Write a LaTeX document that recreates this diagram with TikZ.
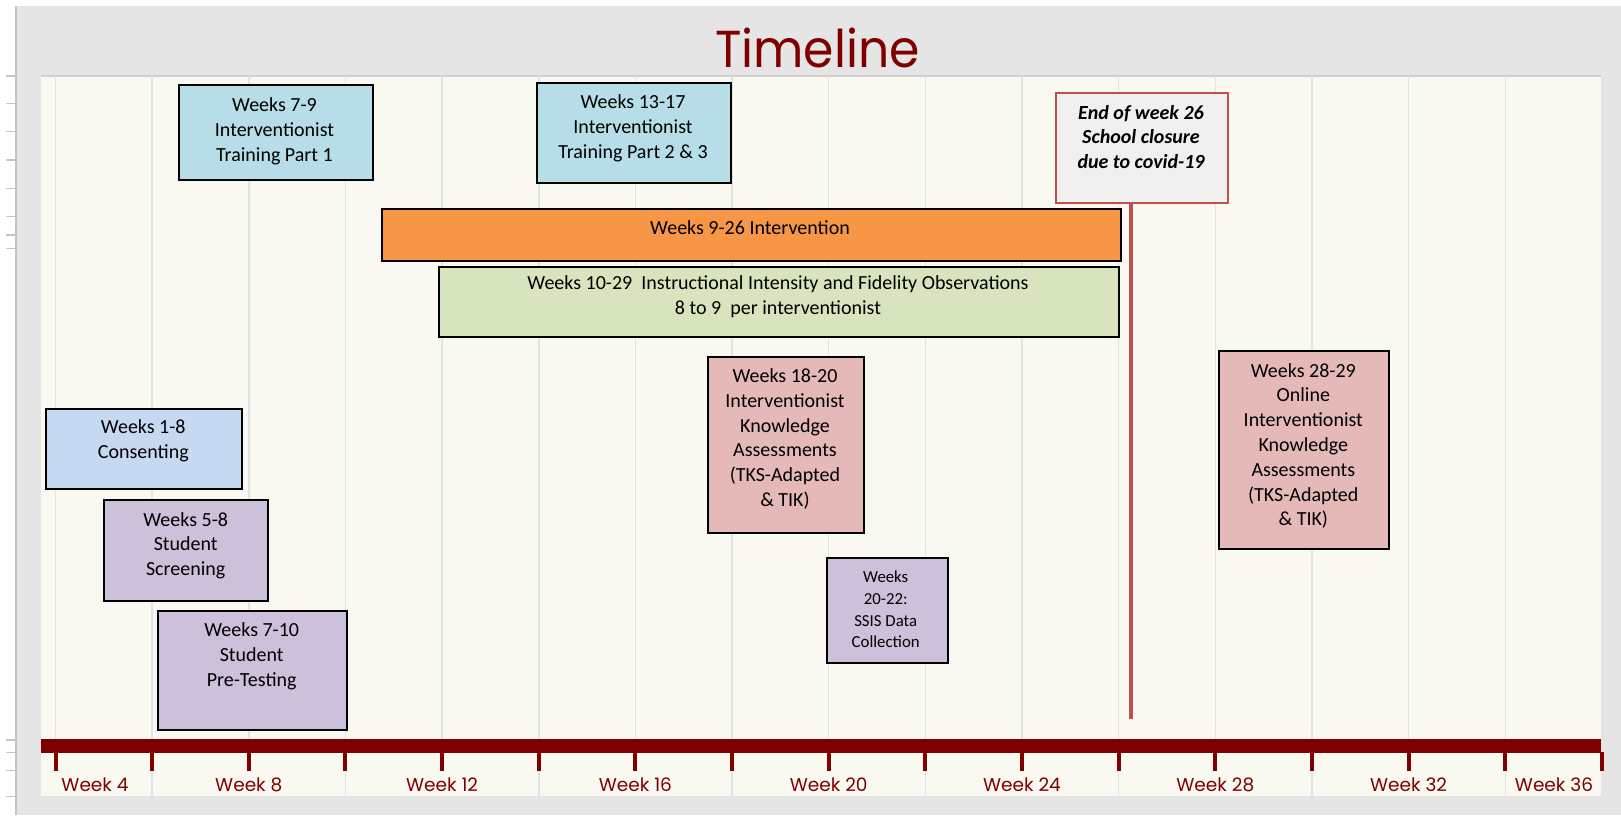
\documentclass[tikz,border=0pt]{standalone}
\usepackage{fontspec}
\setmainfont{Carlito}
\newfontfamily\titlefont{Poppins}
\usepackage{graphicx}
\usetikzlibrary{fit}
\definecolor{panelgray}{RGB}{229,229,229}
\definecolor{rulergray}{RGB}{196,196,196}
\definecolor{plotbg}{RGB}{249,249,241}
\definecolor{gridc}{RGB}{226,226,226}
\definecolor{darkred}{RGB}{128,0,0}
\definecolor{tblue}{RGB}{182,221,232}
\definecolor{cblue}{RGB}{198,217,241}
\definecolor{purp}{RGB}{204,192,218}
\definecolor{pinkc}{RGB}{229,185,184}
\definecolor{orangec}{RGB}{247,150,70}
\definecolor{greenc}{RGB}{215,228,189}
\definecolor{covidfill}{RGB}{240,240,240}
\definecolor{covidred}{RGB}{192,80,77}
\begin{document}
\begin{tikzpicture}[x=1pt,y=-1pt,
  box/.style={draw=black, line width=2pt, inner sep=0pt},
  txt/.style={align=center, font=\fontsize{20}{24.8}\selectfont, inner sep=0pt, text=black},
  smalltxt/.style={align=center, font=\fontsize{16.8}{21.7}\selectfont, inner sep=0pt, text=black},
  wklabel/.style={font=\titlefont\fontsize{18.5}{20}\selectfont, text=darkred, inner sep=0pt, anchor=base},
  gridline/.style={draw=gridc, line width=1.5pt},
  tickmark/.style={draw=darkred, line width=4pt},
  rulertick/.style={draw=rulergray, line width=1.3pt},
]
\useasboundingbox (0,0) rectangle (1621,815);
\fill[white] (0,0) rectangle (1621,815);
% outer panel
\fill[panelgray] (15.5,6) rectangle (1621,815);
\draw[rulergray, line width=2pt] (15.5,6) -- (15.5,815);
\foreach \yy in {76,103.7,131.7,160,188.3,216.7,235,248.3,740,752.3,770.7,796.7}
  \draw[rulertick] (6,\yy) -- (15,\yy);
% title
\node[font=\titlefont\fontsize{52}{60}\selectfont, text=darkred, inner sep=0pt, anchor=base] (title) at (817.5,67.7) {\scalebox{0.94}[1]{Timeline}};
% plot area
\fill[plotbg] (40.7,76) rectangle (1601,796);
\draw[rulergray!80, line width=1.5pt] (40.7,76) -- (1601,76);
\foreach \k in {0,...,16}
  \draw[gridline] ({55.5+96.65*\k},76) -- ({55.5+96.65*\k},739.3);
\foreach \k in {1,3,...,15}
  \draw[gridline] ({55.5+96.65*\k},752.7) -- ({55.5+96.65*\k},796);
% timeline band
\fill[darkred] (40.7,739.3) rectangle (1601,752.7);
\foreach \k in {0,...,16}
  \draw[tickmark] ({55.5+96.65*\k},752) -- ({55.5+96.65*\k},771);
\node[wklabel] (w4) at (95,791.7) {Week 4};
\node[wklabel] (w8) at (248.8,791.7) {Week 8};
\node[wklabel] (w12) at (442.1,791.7) {Week 12};
\node[wklabel] (w16) at (635.4,791.7) {Week 16};
\node[wklabel] (w20) at (828.7,791.7) {Week 20};
\node[wklabel] (w24) at (1022,791.7) {Week 24};
\node[wklabel] (w28) at (1215.3,791.7) {Week 28};
\node[wklabel] (w32) at (1408.6,791.7) {Week 32};
\node[wklabel] (w36) at (1554,791.7) {Week 36};
% boxes
\node[box, fill=tblue, fit={(179,85.3) (372.7,180.3)}] (t1) {};
\node[txt] (t1t) at (274.5,131) {Weeks 7-9\\Interventionist\\Training Part 1};
\node[box, fill=tblue, fit={(536.7,83.3) (730.7,182.7)}] (t2) {};
\node[txt] (t2t) at (633,128.2) {Weeks 13-17\\Interventionist\\Training Part 2 \& 3};
\node[box, draw=covidred, fill=covidfill, fit={(1056,93.3) (1227.7,202.7)}] (covid) {};
\node[txt, font=\fontsize{20}{24.8}\selectfont\bfseries\itshape] (covidt) at (1141,137) {End of week 26\\School closure\\due to covid-19};
\coordinate (cvend) at (1131,719);
\draw[covidred, line width=3.5pt] (covid.south -| cvend) -- (cvend);
\node[box, fill=orangec, fit={(382.3,208.5) (1121,261)}] (interv) {};
\node[txt] (intervt) at (750,227.7) {Weeks 9-26 Intervention};
\node[box, fill=greenc, fit={(438.7,266.7) (1119,337.3)}] (fid) {};
\node[txt] (fidt) at (778,297) {Weeks 10-29~ Instructional Intensity and Fidelity Observations\\8 to 9~ per interventionist};
\node[box, fill=pinkc, fit={(707.7,357.3) (863.7,532.7)}] (kn1) {};
\node[txt] (kn1t) at (785,439) {Weeks 18-20\\Interventionist\\Knowledge\\Assessments\\(TKS-Adapted\\\& TIK)};
\node[box, fill=pinkc, fit={(1219,351) (1388.7,549.3)}] (kn2) {};
\node[txt] (kn2t) at (1303.3,446) {Weeks 28-29\\Online\\Interventionist\\Knowledge\\Assessments\\(TKS-Adapted\\\& TIK)};
\node[box, fill=cblue, fit={(45.7,409.3) (241.7,488.7)}] (cons) {};
\node[txt] (const) at (143.3,441) {Weeks 1-8\\Consenting};
\node[box, fill=purp, fit={(104,500) (267.7,601.3)}] (scr) {};
\node[txt] (scrt) at (185.7,545.7) {Weeks 5-8\\Student\\Screening};
\node[box, fill=purp, fit={(158.3,611) (346.7,730)}] (pre) {};
\node[txt] (pret) at (251.7,656.5) {Weeks 7-10\\Student\\Pre-Testing};
\node[box, fill=purp, fit={(826.7,558.3) (948,663.3)}] (ssis) {};
\node[smalltxt] (ssist) at (885.7,609.5) {Weeks\\20-22:\\SSIS Data\\Collection};
\end{tikzpicture}
\end{document}
